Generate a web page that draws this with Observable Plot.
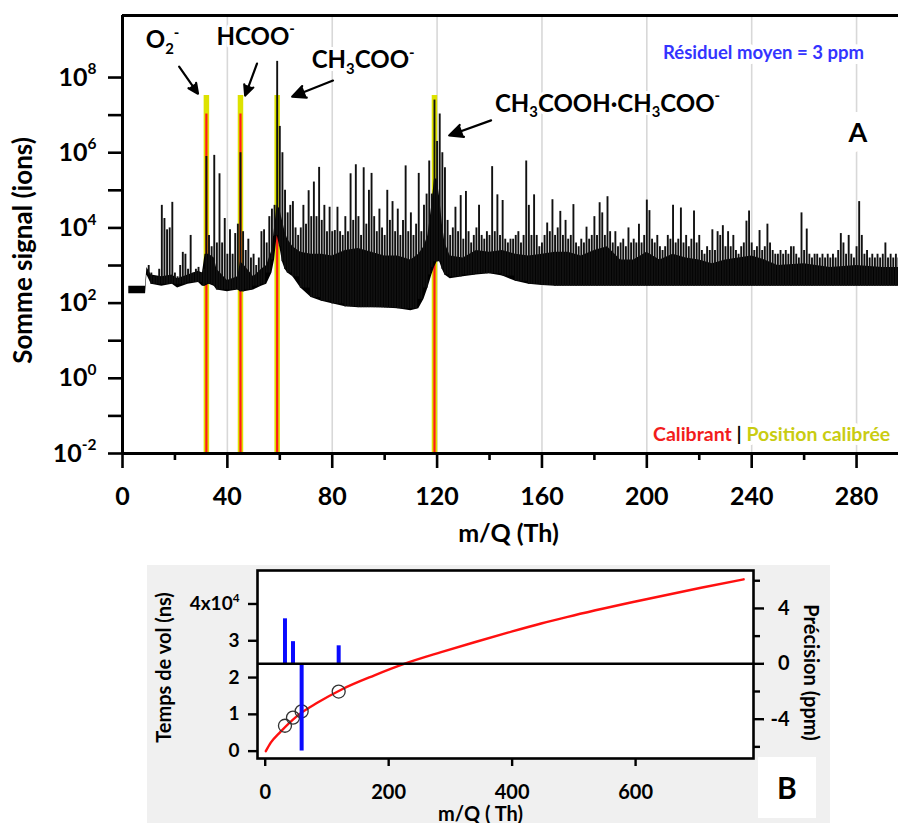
<!DOCTYPE html>
<html><head><meta charset="utf-8">
<script src="https://cdn.jsdelivr.net/npm/d3@7"></script>
<script src="https://cdn.jsdelivr.net/npm/@observablehq/plot@0.6"></script>
<style>
body{margin:0;background:#fff;}
#wrap{position:relative;width:898px;height:823px;overflow:hidden;font-family:Lato,"Open Sans",sans-serif;}
#a{position:absolute;left:0;top:0;}
#bbox{position:absolute;left:147px;top:565px;width:683px;height:258px;background:#f0f0f0;}
#bbox svg{position:absolute;left:0;top:0;}
#blab{position:absolute;left:611px;top:192px;width:58px;height:61px;background:#fff;font:bold 30px Lato,sans-serif;text-align:center;line-height:61px;color:#000;}
</style></head>
<body>
<div id="wrap">
  <div id="a"></div>
  <div id="bbox"><div id="b"></div><div id="blab">B</div></div>
</div>
<script>
// ---------- Panel A : spectrum ----------
const massStart = 10; // first integer m/Q of peakLog10
const peakLog10 = [
 3.0,2.8,2.7,2.7,2.9,4.6,4.25,3.95,4.0,4.68,
 2.8,2.7,3.0,3.35,3.3,2.9,3.8,2.8,2.9,2.95,
 2.8,2.9,5.9,3.8,3.5,5.93,3.6,5.44,3.6,4.25,
 3.3,3.95,3.3,3.85,4.1,6.0,3.9,3.4,3.7,3.2,
 3.3,3.0,3.2,3.9,3.95,3.6,4.3,4.5,4.6,8.43,
 6.7,6.0,5.0,4.4,4.6,4.7,4.0,3.8,4.0,4.6,
 4.1,4.99,4.3,5.22,4.3,5.61,4.2,4.6,3.9,4.55,
 3.9,3.93,4.55,3.9,3.8,4.3,3.9,5.44,4.2,5.68,
 4.3,3.8,5.6,4.1,5.0,5.45,4.3,3.9,4.5,4.0,
 3.8,5.0,4.2,4.7,3.9,4.5,3.8,4.2,5.65,3.9,
 4.4,3.8,4.1,5.45,3.9,4.6,4.9,5.78,4.9,7.4,
 6.3,7.03,6.0,5.6,4.2,3.8,4.0,4.55,3.9,4.86,
 3.7,4.97,3.9,3.6,3.8,4.0,4.6,3.8,3.7,3.9,
 3.8,5.63,3.9,4.88,3.8,4.73,3.7,3.6,3.7,3.7,
 3.8,3.9,3.6,3.8,5.78,4.6,3.8,4.88,3.8,3.5,
 3.6,3.8,4.13,3.9,4.75,3.8,4.0,4.44,3.8,4.2,
 3.7,3.8,4.62,3.6,3.5,3.7,3.6,4.02,3.7,3.8,
 4.3,3.8,4.67,4.4,3.8,4.83,3.9,3.6,3.9,3.5,
 3.6,3.7,3.5,4.0,3.6,3.7,3.6,4.1,3.6,3.8,
 4.74,4.46,3.7,3.6,3.8,3.5,3.4,3.5,3.8,3.7,
 4.6,3.6,3.7,4.53,3.6,3.8,3.5,3.7,4.45,3.6,
 3.8,3.4,3.3,3.5,3.4,3.95,3.4,3.9,3.8,4.06,
 3.5,3.9,3.5,3.8,3.4,3.3,3.5,3.6,4.18,4.45,
 3.6,3.4,3.5,3.93,3.4,3.5,4.1,3.6,3.4,3.3,
 3.3,3.4,3.3,3.4,3.3,3.5,3.5,3.3,3.2,4.4,
 3.4,3.97,3.3,3.2,3.3,3.3,3.2,3.3,3.2,3.3,
 3.2,3.3,3.2,3.4,3.85,3.6,3.3,3.8,3.3,3.2,
 3.5,4.7,3.8,3.3,3.4,3.2,3.3,3.2,3.3,3.2,
 3.3,3.6,3.2,3.3,3.2,3.3,3.2
];
// dense black envelope of the trace (log10 ions)
const bandMass = [2.4,8.8,9.3,11,15,19,21,25,29,30.5,31.5,33,35,36,40,44,45,46.5,50,53,55,57,58,59,60,61,62,63,65,68,72,76,80,85,90,95,100,105,110,113,115,116.5,118,119,120,121,122,123,125,130,135,140,145,150,155,160,165,170,175,180,185,190,195,200,205,210,215,220,225,230,240,245,250,260,270,280,290,296];
const bandLowLog10 = [2.25,2.25,2.75,2.5,2.45,2.5,2.4,2.5,2.55,2.45,2.45,2.5,2.45,2.35,2.3,2.35,2.3,2.3,2.35,2.45,2.5,2.8,3.15,3.8,3.5,3.1,2.9,2.8,2.7,2.4,2.15,2.05,1.98,1.9,1.88,1.88,1.87,1.85,1.8,1.85,2.1,2.4,2.75,2.95,3.1,3.1,2.9,2.75,2.65,2.7,2.75,2.78,2.72,2.58,2.5,2.47,2.45,2.45,2.45,2.45,2.45,2.45,2.45,2.45,2.45,2.45,2.45,2.45,2.45,2.45,2.45,2.45,2.45,2.45,2.45,2.45,2.45,2.45];
const bandHighLog10 = [2.45,2.45,2.95,2.75,2.7,2.75,2.65,2.75,2.85,2.8,3.3,3.3,3.2,2.9,2.6,2.7,3.1,3.0,2.7,2.9,3.0,3.4,4.0,4.6,4.5,4.2,3.9,3.7,3.5,3.35,3.3,3.3,3.25,3.4,3.45,3.35,3.25,3.25,3.15,3.3,3.5,3.8,4.6,5.3,5.3,4.8,4.1,3.6,3.25,3.2,3.4,3.35,3.4,3.3,3.25,3.3,3.35,3.35,3.25,3.4,3.5,3.15,3.15,3.35,3.15,3.3,3.2,3.15,3.05,3.15,3.25,3.15,3.0,3.05,2.95,3.0,2.95,2.95];

const calibrantNames = ["O2-","HCOO-","CH3COO-","CH3COOH·CH3COO-"];
const calibrantMass = [32, 45, 59, 119];
const positionTopLog10 = [7.52, 7.52, 7.52, 7.52];
const calibrantTopLog10 = [7.03, 7.03, 4.5, 4.5];

const xMajorA = [0,40,80,120,160,200,240,280];
const xMinorA = [20,60,100,140,180,220,260];
const xGridA = [40,80,120,160,200,240,280];
const yMajorA = [1e-2,1e0,1e2,1e4,1e6,1e8];
const yMinorA = [1e-1,1e1,1e3,1e5,1e7];

const ionLabels = ["O_2^-","HCOO^-","CH_3COO^-","CH_3COOH·CH_3COO^-"];
const ionLabelMass = [15.3, 50.8, 91.8, 185];
const ionLabelLog10 = [8.98, 9.08, 8.45, 7.3];
const arrowFromMass = [21.6, 51.3, 80.3, 140.6];
const arrowFromLog10 = [8.29, 8.37, 7.92, 6.86];
const arrowToMass = [28.8, 46.8, 64.7, 124.6];
const arrowToLog10 = [7.57, 7.52, 7.49, 6.46];

const residualText = "Résiduel moyen = 3 ppm";
const legendLabels = ["Calibrant","Position calibrée"];
const legendColors = ["#f21c1c","#c9cc12"];

// ---------- Panel B : calibration ----------
const curveMass = [1, 9, 25, 52, 85, 123, 177, 225, 285, 339, 393, 447, 490, 598, 706, 775];
const curveTof = [0, 2300, 5300, 9600, 13200, 16700, 20600, 23700, 26900, 29600, 32200, 34700, 36500, 40600, 44400, 46700];
const calTof = [6900, 9100, 10800, 16200];
const precisionPpm = [3.25, 1.6, -6.3, 1.3];
const xTicksB = [0,200,400,600];
const yTicksB = [0,10000,20000,30000,40000];
const ppmMajor = [-4,0,4];
const ppmMinor = [-6,-2,2,6];

// ---------- build tables ----------
const band = bandMass.map((m,i)=>({mass:m, low:10**bandLowLog10[i], high:10**bandHighLog10[i]}));
const peaks = peakLog10.map((v,i)=>{
  const m = massStart+i;
  const j = d3.bisectRight(bandMass, m);
  const lo = Math.max(bandLowLog10[Math.max(j-1,0)], bandLowLog10[Math.min(j,bandMass.length-1)]);
  return {mass:m, top:10**v, base:10**lo};
});
const calib = calibrantMass.map((m,i)=>({name:calibrantNames[i], mass:m, pos:10**positionTopLog10[i], red:10**calibrantTopLog10[i], tof:calTof[i], ppm:precisionPpm[i]}));
const ions = ionLabels.map((t,i)=>({t, x:ionLabelMass[i], y:10**ionLabelLog10[i], x1:arrowFromMass[i], y1:10**arrowFromLog10[i], x2:arrowToMass[i], y2:10**arrowToLog10[i]}));
const curve = curveMass.map((m,i)=>({mass:m, tof:curveTof[i]}));

const yTopA = 10**9.65;
const fmtPow = d => `10^{${Math.round(Math.log10(d))}}`;
const FONT = "Lato, 'Open Sans', sans-serif";

const A = Plot.plot({
  width: 898, height: 565,
  marginLeft: 122, marginRight: 0, marginTop: 15, marginBottom: 112,
  x: {domain: [0, 296], label: null},
  y: {type: "log", domain: [1e-2, yTopA], label: null},
  style: {fontFamily: FONT, fontWeight: "bold", background: "transparent", color: "#000"},
  marks: [
    Plot.ruleX(xGridA, {stroke: "#d8d8d8", strokeWidth: 1.6}),
    Plot.ruleX(calib, {x: "mass", y1: 1e-2, y2: "pos", stroke: "#dde200", strokeWidth: 5.5}),
    Plot.ruleX(calib, {x: "mass", y1: 1e-2, y2: "red", stroke: "#ff1a1a", strokeWidth: 2.2}),
    Plot.areaY(band, {x: "mass", y1: "low", y2: "high", fill: "#000"}),
    Plot.ruleX(peaks, {x: "mass", y1: "base", y2: "top", stroke: "#111", strokeWidth: 1.9}),
    Plot.ruleY([yTopA], {stroke: "#000", strokeWidth: 3}),
    Plot.ruleY([1e-2], {stroke: "#000", strokeWidth: 3}),
    Plot.ruleX([0], {stroke: "#000", strokeWidth: 3}),
    Plot.axisY(yMajorA, {tickSize: 14, tickPadding: 12, tickFormat: fmtPow, fontSize: 25, strokeWidth: 2.6, label: null}),
    Plot.axisY(yMinorA, {tickSize: 14, tickFormat: () => "", strokeWidth: 2.6, label: null}),
    Plot.axisX(xMajorA, {tickSize: 15, tickPadding: 19, fontSize: 25, strokeWidth: 2.6, label: null}),
    Plot.axisX(xMinorA, {tickSize: 7, tickFormat: () => "", strokeWidth: 2.6, label: null}),
    Plot.arrow(ions, {x1: "x1", y1: "y1", x2: "x2", y2: "y2", stroke: "#000", fill: "#000", strokeWidth: 2.2, headLength: 14, headAngle: 50}),
    Plot.text(ions, {x: "x", y: "y", text: "t", fontSize: 24, fontWeight: "bold", fill: "#000", stroke: "white", strokeWidth: 6}),
    Plot.text([residualText], {x: [244.5], y: [10**8.66], fontSize: 18.5, fontWeight: "bold", fill: "#3434ff", stroke: "white", strokeWidth: 10}),
    Plot.text(["A"], {x: [280.5], y: [10**6.52], fontSize: 27, fontWeight: "bold", fill: "#000", stroke: "white", strokeWidth: 22}),
    Plot.text([legendLabels.join(" | ")], {x: [247.6], y: [10**-1.5], fontSize: 19.5, fontWeight: "bold", fill: "#000", stroke: "white", strokeWidth: 8}),
    Plot.text(["Somme signal (ions)"], {frameAnchor: "left", textAnchor: "middle", rotate: -90, dx: -99, dy: 16, fontSize: 26, fontWeight: "bold", fill: "#000"}),
    Plot.text(["m/Q (Th)"], {frameAnchor: "bottom", textAnchor: "middle", lineAnchor: "middle", dy: 80, dx: -2, fontSize: 25, fontWeight: "bold", fill: "#000"})
  ]
});

const dimB = {width: 683, height: 258, marginLeft: 110, marginRight: 77, marginTop: 5, marginBottom: 65};
const styleB = {fontFamily: FONT, fontWeight: "bold", background: "transparent", color: "#000"};
const xDomB = [-12.5, 791];

const B1 = Plot.plot({
  ...dimB,
  x: {domain: xDomB, label: null},
  y: {domain: [-2000, 49100], label: null},
  style: styleB,
  marks: [
    Plot.frame({fill: "white", stroke: "none"}),
    Plot.axisX(xTicksB, {tickSize: 8, tickPadding: 18, fontSize: 20, strokeWidth: 2.4, label: null}),
    Plot.axisY(yTicksB, {tickSize: 9, tickPadding: 9, fontSize: 19, strokeWidth: 2.4, label: null,
      tickFormat: d => d === 40000 ? "4x10^4" : String(d / 10000)}),
    Plot.line(curve, {x: "mass", y: "tof", stroke: "#ff1010", strokeWidth: 2.4, curve: "monotone-x"}),
    Plot.dot(calib, {x: "mass", y: "tof", r: 6.5, stroke: "#333", strokeWidth: 1.3, fill: "none"}),
    Plot.text(["Temps de vol (ns)"], {frameAnchor: "left", textAnchor: "middle", rotate: -90, dx: -93, dy: 3, fontSize: 20, fontWeight: "bold", fill: "#000"}),
    Plot.text(["m/Q ( Th)"], {frameAnchor: "bottom", textAnchor: "middle", lineAnchor: "top", dy: 48, dx: -25, fontSize: 20, fontWeight: "bold", fill: "#000"})
  ]
});

const B2 = Plot.plot({
  ...dimB,
  x: {domain: xDomB, label: null, axis: null},
  y: {domain: [-6.84, 6.74], label: null, axis: null},
  style: styleB,
  marks: [
    Plot.ruleX(calib, {x: "mass", y1: 0, y2: "ppm", stroke: "#0a0aff", strokeWidth: 4}),
    Plot.ruleY([0], {stroke: "#000", strokeWidth: 2.4}),
    Plot.axisY(ppmMajor, {anchor: "right", tickSize: 10, tickFormat: () => "", strokeWidth: 2.4, label: null}),
    Plot.axisY(ppmMinor, {anchor: "right", tickSize: 6, tickFormat: () => "", strokeWidth: 2.4, label: null}),
    Plot.text(ppmMajor, {frameAnchor: "right", y: d => d, text: d => String(d), textAnchor: "end", dx: 36, fontSize: 20, fontWeight: "bold", fill: "#000"}),
    Plot.frame({stroke: "#000", strokeWidth: 2.6}),
    Plot.text(["Précision (ppm)"], {frameAnchor: "right", textAnchor: "middle", rotate: 90, dx: 57, dy: 8, fontSize: 20, fontWeight: "bold", fill: "#000"})
  ]
});

document.getElementById("a").append(A);
document.getElementById("b").append(B1, B2);

// rich text: _x subscript, ^x superscript, {..} groups
function richText(root) {
  root.querySelectorAll("text").forEach(t => {
    if (t.querySelector("tspan")) return;
    const s = t.textContent;
    if (!/[_^]/.test(s)) return;
    const fs = parseFloat(getComputedStyle(t).fontSize) || 16;
    const parts = [];
    let buf = "", i = 0;
    while (i < s.length) {
      const c = s[i];
      if ((c === "_" || c === "^") && i + 1 < s.length) {
        if (buf) parts.push({text: buf, mode: 0});
        buf = "";
        let seg;
        if (s[i + 1] === "{") { const j = s.indexOf("}", i + 2); seg = s.slice(i + 2, j); i = j + 1; }
        else { seg = s[i + 1]; i += 2; }
        parts.push({text: seg, mode: c === "_" ? -1 : 1});
      } else { buf += c; i++; }
    }
    if (buf) parts.push({text: buf, mode: 0});
    t.textContent = "";
    let shift = 0;
    for (const p of parts) {
      const ts = document.createElementNS("http://www.w3.org/2000/svg", "tspan");
      const target = p.mode === 1 ? -0.45 * fs : p.mode === -1 ? 0.22 * fs : 0;
      if (target - shift !== 0) ts.setAttribute("dy", target - shift);
      shift = target;
      if (p.mode) ts.setAttribute("font-size", (fs * 0.62).toFixed(1));
      ts.textContent = p.text;
      t.appendChild(ts);
    }
  });
}
richText(A); richText(B1); richText(B2);

// colored legend
A.querySelectorAll("text").forEach(t => {
  if (t.textContent !== legendLabels.join(" | ")) return;
  t.textContent = "";
  const segs = [[legendLabels[0], legendColors[0]], [" | ", "#000"], [legendLabels[1], legendColors[1]]];
  for (const [txt, col] of segs) {
    const ts = document.createElementNS("http://www.w3.org/2000/svg", "tspan");
    ts.setAttribute("fill", col);
    ts.textContent = txt;
    t.appendChild(ts);
  }
});
</script>
</body></html>
